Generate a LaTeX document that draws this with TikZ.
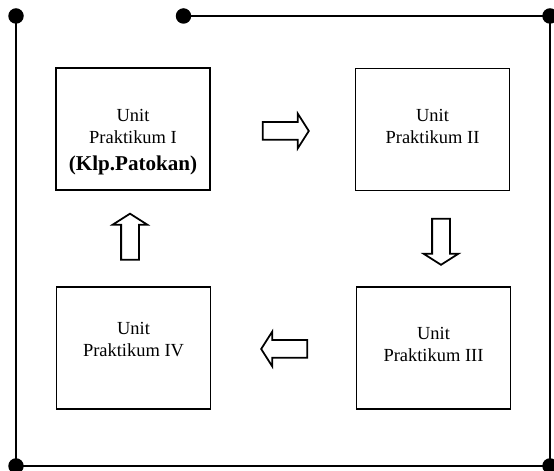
\documentclass[tikz,border=0pt]{standalone}
\usepackage{fontspec}
\setmainfont{Liberation Serif}
\usetikzlibrary{shapes.arrows}

\begin{document}
\begin{tikzpicture}[scale=1, cap=round,
  kotak/.style={draw, line width=1.1pt, minimum width=3.08cm, minimum height=2.44cm, inner sep=0pt},
  teks/.style={align=center, inner sep=0pt, font=\fontsize{10.5}{12.5}\selectfont},
  panah/.style={single arrow, draw, line width=1pt, inner sep=0pt, text height=0.32cm, text depth=0pt,
    minimum height=0.92cm, single arrow head extend=0.17cm, single arrow tip angle=115, single arrow head indent=0pt},
  titik/.style={circle, fill, inner sep=0pt, minimum size=0.31cm}]
\useasboundingbox (0,0) rectangle (11.08,9.42);

%frame
\node[titik] (tl) at (0.32, 9.10) {};
\node[titik] (tm) at (3.67, 9.10) {};
\node[titik] (tr) at (11.0, 9.10) {};
\node[titik] (bl) at (0.32, 0.10) {};
\node[titik] (br) at (11.0, 0.10) {};
\draw[line width=1.1pt] (tl.center) -- (bl.center);
\draw[line width=1.1pt] (bl.center) -- (br.center);
\draw[line width=1.1pt] (br.center) -- (tr.center);
\draw[line width=1.1pt] (tr.center) -- (tm.center);

%units
\node[kotak] (u1) at (2.66, 6.84) {};
\node[kotak] (u2) at (8.65, 6.83) {};
\node[kotak] (u3) at (8.67, 2.46) {};
\node[kotak] (u4) at (2.67, 2.46) {};

\node[teks, anchor=north] (t1) at ([yshift=-0.84cm]u1.north) {Unit\\Praktikum I\\[3pt]{\bfseries\fontsize{12}{14}\selectfont (Klp.Patokan)}};
\node[teks, anchor=north] (t2) at ([yshift=-0.82cm]u2.north) {Unit\\Praktikum II};
\node[teks, anchor=north] (t3) at ([yshift=-0.82cm]u3.north) {Unit\\Praktikum III};
\node[teks, anchor=north] (t4) at ([yshift=-0.72cm]u4.north) {Unit\\Praktikum IV};

%arrows
\node[panah] (a12) at (5.66, 6.80) {};
\node[panah, rotate=-90] (a23) at (8.82, 4.64) {};
\node[panah, rotate=180] (a34) at (5.74, 2.44) {};
\node[panah, rotate=90] (a41) at (2.60, 4.63) {};
\end{tikzpicture}
\end{document}
